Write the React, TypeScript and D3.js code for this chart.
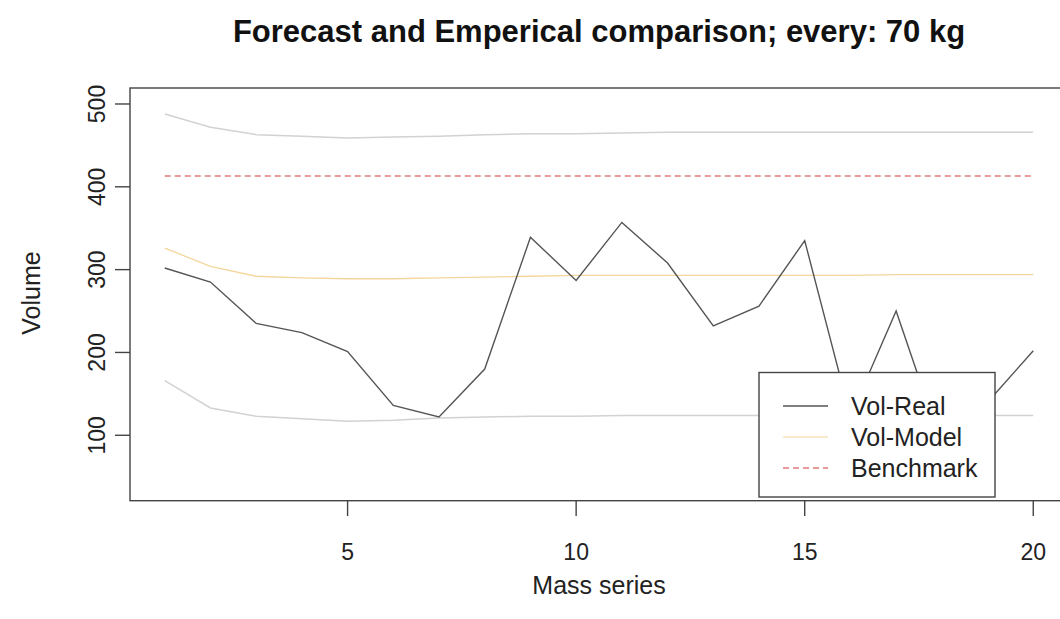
import React from "react";
import * as d3 from "d3";

const massSeries = [1, 2, 3, 4, 5, 6, 7, 8, 9, 10, 11, 12, 13, 14, 15, 16, 17, 18, 19, 20];
const volReal = [302, 285, 235, 224, 201, 136, 122, 180, 339, 287, 357, 308, 232, 256, 335, 123, 250, 88, 140, 202];
const volModel = [326, 304, 292, 290, 289, 289, 290, 291, 292, 293, 293, 293, 293, 293, 293, 293, 294, 294, 294, 294];
const upperBand = [488, 472, 463, 461, 459, 460, 461, 463, 464, 464, 465, 466, 466, 466, 466, 466, 466, 466, 466, 466];
const lowerBand = [166, 133, 123, 120, 117, 118, 121, 122, 123, 123, 124, 124, 124, 124, 124, 124, 124, 124, 124, 124];
const benchmark = [413, 413, 413, 413, 413, 413, 413, 413, 413, 413, 413, 413, 413, 413, 413, 413, 413, 413, 413, 413];
const xTicks = [5, 10, 15, 20];
const yTicks = [100, 200, 300, 400, 500];
const legendLabels = ["Vol-Real", "Vol-Model", "Benchmark"];

const W = 1060;
const H = 619;
const FONT = "'Liberation Sans', Arial, sans-serif";

export default function App() {
  const x = d3.scaleLinear().domain([0.24, 20.76]).range([130, 1068]);
  const y = d3.scaleLinear().domain([21, 519.3]).range([500.7, 88]);
  const line = (vals: number[]) =>
    d3
      .line<number>()
      .x((_, i) => x(massSeries[i]))
      .y((v) => y(v))(vals) as string;

  const legendStyles = [
    { stroke: "#555555", width: 1.6, dash: undefined as string | undefined },
    { stroke: "#f4d69c", width: 1.2, dash: undefined },
    { stroke: "#e27a7a", width: 1.4, dash: "6,4" },
  ];

  return (
    <svg
      width={W}
      height={H}
      style={{ position: "absolute", left: 0, top: 0, background: "#fff" }}
      fontFamily={FONT}
    >
      <rect x={0} y={0} width={W} height={H} fill="#fff" />
      <text x={599} y={42} textAnchor="middle" fontSize={31} fontWeight="bold" fill="#111">
        Forecast and Emperical comparison; every: 70 kg
      </text>

      {/* series */}
      <path d={line(upperBand)} fill="none" stroke="#d2d2d2" strokeWidth={1.5} />
      <path d={line(lowerBand)} fill="none" stroke="#d2d2d2" strokeWidth={1.5} />
      <path d={line(benchmark)} fill="none" stroke="#e27a7a" strokeWidth={1.4} strokeDasharray="6,4" />
      <path d={line(volModel)} fill="none" stroke="#f4d69c" strokeWidth={1.3} />
      <path d={line(volReal)} fill="none" stroke="#555555" strokeWidth={1.4} />

      {/* box */}
      <rect x={130} y={88} width={938} height={412.7} fill="none" stroke="#444" strokeWidth={1.4} />

      {/* y axis */}
      {yTicks.map((t) => (
        <g key={"y" + t}>
          <line x1={115} x2={130} y1={y(t)} y2={y(t)} stroke="#444" strokeWidth={1.4} />
          <text
            transform={`translate(105,${y(t)}) rotate(-90)`}
            textAnchor="middle"
            fontSize={23}
            fill="#222"
          >
            {t}
          </text>
        </g>
      ))}
      {/* x axis */}
      {xTicks.map((t) => (
        <g key={"x" + t}>
          <line x1={x(t)} x2={x(t)} y1={500.7} y2={516} stroke="#444" strokeWidth={1.4} />
          <text x={x(t)} y={560} textAnchor="middle" fontSize={23} fill="#222">
            {t}
          </text>
        </g>
      ))}
      <text x={599} y={594} textAnchor="middle" fontSize={25} fill="#222">
        Mass series
      </text>
      <text transform={`translate(40,293) rotate(-90)`} textAnchor="middle" fontSize={25} fill="#222">
        Volume
      </text>

      {/* legend */}
      <rect x={759} y={372.5} width={236} height={124.5} fill="#fff" stroke="#444" strokeWidth={1.4} />
      {legendLabels.map((lab, i) => {
        const cy = 406 + i * 31;
        const s = legendStyles[i];
        return (
          <g key={lab}>
            <line x1={783} x2={828} y1={cy} y2={cy} stroke={s.stroke} strokeWidth={s.width} strokeDasharray={s.dash} />
            <text x={851} y={cy + 9} fontSize={25} fill="#222">
              {lab}
            </text>
          </g>
        );
      })}
    </svg>
  );
}
